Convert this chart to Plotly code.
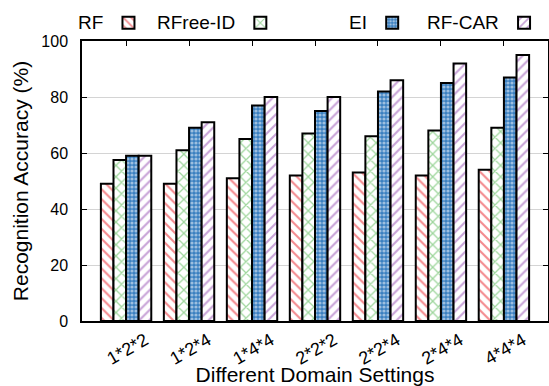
import plotly.graph_objects as go

categories = ["1*2*2", "1*2*4", "1*4*4", "2*2*2", "2*2*4", "2*4*4", "4*4*4"]
rf = [49, 49, 51, 52, 53, 52, 54]
rfree_id = [57.5, 61, 65, 67, 66, 68, 69]
ei = [59, 69, 77, 75, 82, 85, 87]
rf_car = [59, 71, 80, 80, 86, 92, 95]
series_names = ["RF", "RFree-ID", "EI", "RF-CAR"]

FONT = "Liberation Sans, Arial, Helvetica, sans-serif"

styles = [
    dict(shape="\\", fgcolor="#e8141c", bgcolor="white", size=7, solidity=0.3),
    dict(shape="x", fgcolor="#3fae3c", bgcolor="white", size=8, solidity=0.3),
    dict(shape=".", fgcolor="white", bgcolor="#3a7fc0", size=4, solidity=0.5),
    dict(shape="/", fgcolor="#9147b0", bgcolor="white", size=7, solidity=0.3),
]

fig = go.Figure()
legend_ids = ["legend", "legend2", "legend3", "legend4"]
for name, vals, st, lg in zip(series_names, [rf, rfree_id, ei, rf_car], styles, legend_ids):
    fig.add_trace(go.Bar(
        x=categories, y=vals, name=" ",
        marker=dict(color="white", pattern=st, line=dict(color="black", width=2)),
        legend=lg,
    ))

# plot area pixel geometry
L, R, T, B = 81.5, 548, 40.7, 321
W, H = 549, 386

def px_x(p):
    return (p - L) / (R - L)

def px_y(p):
    return (B - p) / (B - T)

swatch_centers = [128, 260, 392, 524]
legend_y = 22.5
legend_layouts = {}
annotations = []
for i, (name, cx) in enumerate(zip(series_names, swatch_centers)):
    key = legend_ids[i]
    legend_layouts[key] = dict(
        x=px_x(cx - 20), y=px_y(legend_y), xanchor="left", yanchor="middle",
        bgcolor="rgba(0,0,0,0)", borderwidth=0, font=dict(family=FONT, size=2),
        itemwidth=30, tracegroupgap=0,
    )
    annotations.append(dict(
        x=px_x(cx - 23), y=px_y(legend_y), xref="paper", yref="paper",
        text=name, showarrow=False, xanchor="right", yanchor="middle",
        font=dict(family=FONT, size=19, color="black"),
    ))

fig.update_layout(
    width=W, height=H,
    margin=dict(l=L, r=W - R, t=T, b=H - B, autoexpand=False),
    paper_bgcolor="white", plot_bgcolor="white",
    barmode="group", bargap=0.2, bargroupgap=0,
    font=dict(family=FONT, color="black", size=17),
    showlegend=True,
    annotations=annotations,
    **legend_layouts,
)

fig.update_xaxes(
    type="category", range=[-0.7, 6.7], automargin=False,
    tickangle=-30, ticks="inside", ticklen=5, tickcolor="black",
    showline=True, linecolor="black", linewidth=1.5, mirror="ticks",
    showgrid=False, ticklabelshift=19,
    tickfont=dict(family=FONT, size=18),
    title=dict(text="Different Domain Settings", font=dict(family=FONT, size=21), standoff=2),
)
fig.update_yaxes(
    range=[0, 100], dtick=20, ticks="inside", ticklen=5, tickcolor="black",
    showline=True, linecolor="black", linewidth=1.5, mirror="ticks",
    showgrid=True, gridcolor="#d4d4d4", gridwidth=1, zeroline=False,
    ticklabelstandoff=9, automargin=False,
    tickfont=dict(family=FONT, size=16),
    title=dict(text="Recognition Accuracy (%)", font=dict(family=FONT, size=21), standoff=7),
)

fig.write_html("out.html", config={"displayModeBar": False},
               post_script="document.body.style.margin='0px';")
